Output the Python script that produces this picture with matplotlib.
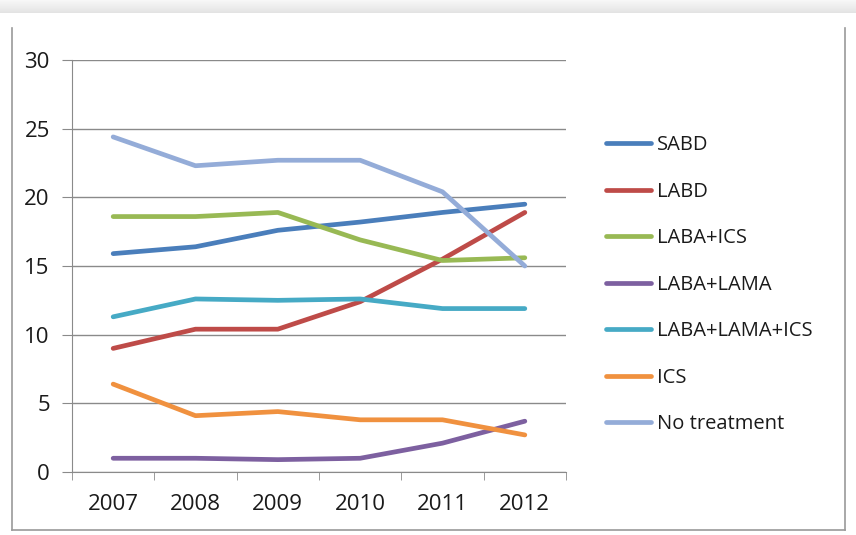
import numpy as np
import matplotlib.pyplot as plt
from matplotlib.lines import Line2D

plt.rcParams['font.family'] = ['Open Sans', 'DejaVu Sans']

years = ['2007', '2008', '2009', '2010', '2011', '2012']

sabd = [15.9, 16.4, 17.6, 18.2, 18.9, 19.5]
labd = [9.0, 10.4, 10.4, 12.4, 15.5, 18.9]
laba_ics = [18.6, 18.6, 18.9, 16.9, 15.4, 15.6]
laba_lama = [1.0, 1.0, 0.9, 1.0, 2.1, 3.7]
laba_lama_ics = [11.3, 12.6, 12.5, 12.6, 11.9, 11.9]
ics = [6.4, 4.1, 4.4, 3.8, 3.8, 2.7]
no_treatment = [24.4, 22.3, 22.7, 22.7, 20.4, 15.0]

series = [
    ('SABD', sabd, '#4a7ebb'),
    ('LABD', labd, '#be4b48'),
    ('LABA+ICS', laba_ics, '#98b954'),
    ('LABA+LAMA', laba_lama, '#7d60a0'),
    ('LABA+LAMA+ICS', laba_lama_ics, '#46aac5'),
    ('ICS', ics, '#f0913f'),
    ('No treatment', no_treatment, '#94acd8'),
]

fig = plt.figure(figsize=(8.56, 5.35), dpi=100)

# soft shadow band along the top edge
band = fig.add_axes([0, 1 - 13 / 535, 1, 13 / 535])
grad = np.linspace(0.97, 0.89, 50).reshape(-1, 1)
band.imshow(grad, aspect='auto', cmap='gray', vmin=0, vmax=1, extent=[0, 1, 0, 1])
band.axis('off')

# outer chart border
W, H = 856, 535
def fx(px):
    return px / W
def fy(py):
    return 1 - py / H
border = '#9a9a9a'
fig.add_artist(Line2D([fx(12), fx(12)], [fy(28), fy(530)], color=border, lw=1.2))
fig.add_artist(Line2D([fx(845), fx(845)], [fy(28), fy(530)], color=border, lw=1.2))
fig.add_artist(Line2D([fx(12), fx(845)], [fy(530), fy(530)], color=border, lw=1.2))

ax = fig.add_axes([fx(72), fy(472), fx(566) - fx(72), fy(60) - fy(472)])
x = np.arange(len(years))
for name, vals, col in series:
    ax.plot(x, vals, color=col, lw=3.4, label=name, solid_capstyle='round')

ax.set_xlim(-0.5, len(years) - 0.5)
ax.set_ylim(0, 30)
ax.set_yticks(range(0, 31, 5))
ax.yaxis.grid(True, color='#8a8a8a', lw=1)
ax.set_axisbelow(True)
ax.set_xticks(x)
ax.set_xticklabels(years)
ax.set_xticks(np.arange(-0.5, len(years)), minor=True)
ax.tick_params(axis='x', which='major', length=0, pad=16, labelsize=16, labelcolor='#1a1a1a')
ax.tick_params(axis='x', which='minor', length=6, color='#8a8a8a', direction='out')
ax.tick_params(axis='y', length=7, color='#8a8a8a', pad=9, labelsize=16, labelcolor='#1a1a1a')
for s in ['top', 'right']:
    ax.spines[s].set_visible(False)
for s in ['left', 'bottom']:
    ax.spines[s].set_color('#8a8a8a')

leg = ax.legend(loc='upper left', bbox_to_anchor=(fx(606), fy(135)), bbox_transform=fig.transFigure,
                frameon=False, fontsize=14.5, handlelength=2.25, handletextpad=0.3,
                labelspacing=1.32, borderaxespad=0, borderpad=0)
for t in leg.get_texts():
    t.set_color('#1a1a1a')

fig.savefig('out.png', dpi=100, facecolor='white')
